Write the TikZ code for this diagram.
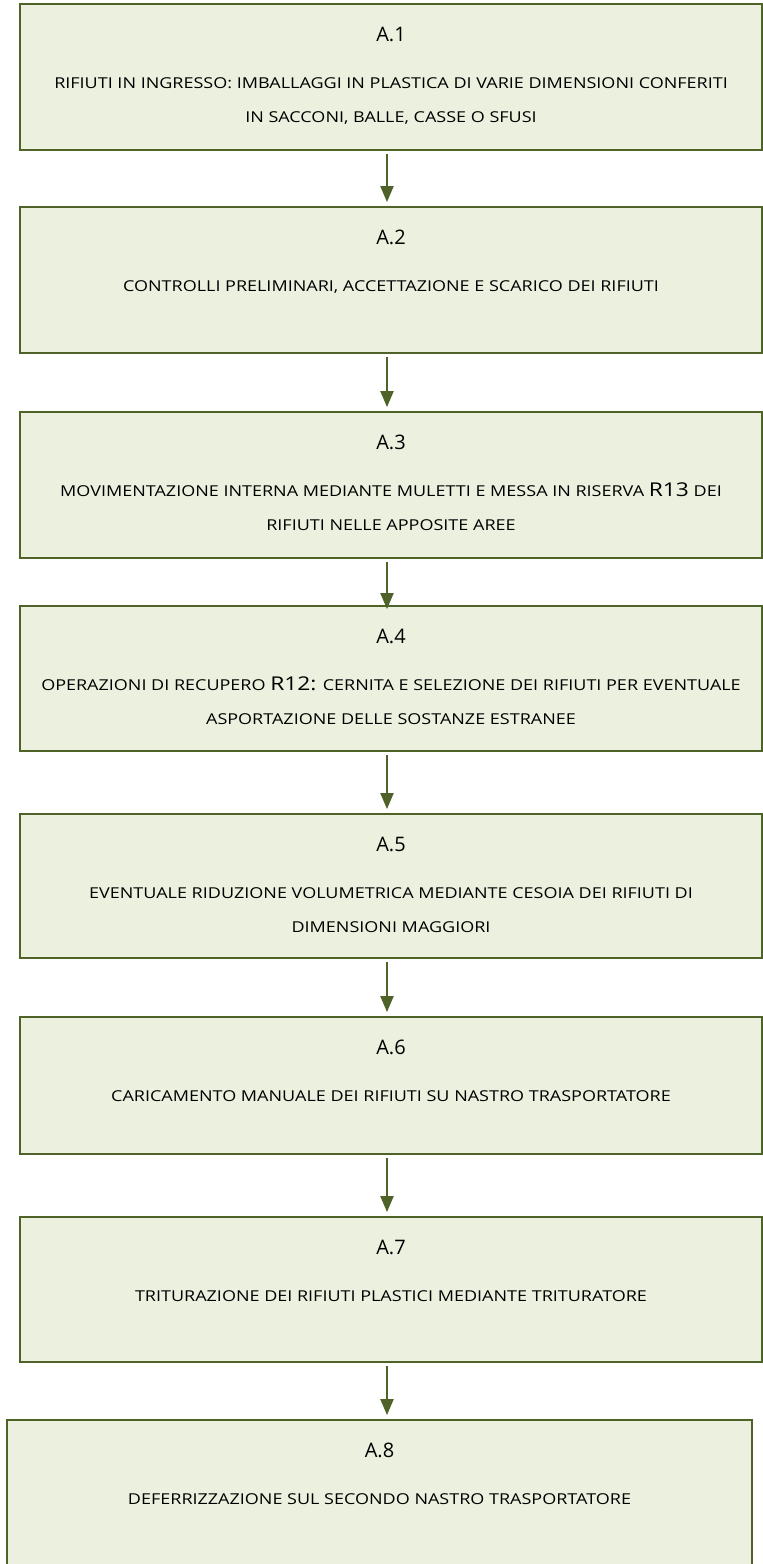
\documentclass[tikz,border=0pt]{standalone}
\usepackage{fontspec}
\setmainfont{Open Sans}
\newfontfamily\stepfont[FakeStretch=1.2]{Open Sans}
\usetikzlibrary{arrows.meta}

\definecolor{olivedark}{HTML}{4F6228}
\definecolor{olivefill}{HTML}{EBF1DE}
\newcommand{\rcode}[1]{{\fontsize{19}{19}\selectfont #1}}

\begin{document}
\begin{tikzpicture}[x=1pt,y=-1pt,
  box/.style={draw=olivedark,line width=1.8pt,fill=olivefill,minimum width=742pt,inner sep=0pt},
  stepno/.style={font=\fontsize{20}{20}\selectfont,anchor=base},
  steptxt/.style={font=\stepfont\fontsize{15}{34}\selectfont,align=center,anchor=base},
  flow/.style={draw=olivedark,line width=2pt,-{Triangle[width=13pt,length=16pt]},shorten <=3pt,shorten >=4pt}]
  \useasboundingbox (0,0) rectangle (763,1564);
  \clip (0,0) rectangle (763,1564);
  % boxes
  \foreach \n/\y/\h in {1/77/146,2/280/146,3/485/146,4/678.5/145,5/886/144,6/1085.5/137,7/1289.5/145} {
    \node[box,minimum height=\h pt] (a\n) at (391,\y) {};
  }
  \node[box,minimum width=745pt,minimum height=170pt] (a8) at (379.5,1505) {};
  \foreach \n in {1,...,8} {
    \node[stepno] (n\n) at ([yshift=-38pt]a\n.north) {A.\n};
  }
  % texts (two-line nodes sit on their last baseline)
  \node[steptxt] (t1) at ([yshift=-119pt]a1.north) {RIFIUTI IN INGRESSO: IMBALLAGGI IN PLASTICA DI VARIE DIMENSIONI CONFERITI\\IN SACCONI, BALLE, CASSE O SFUSI};
  \node[steptxt] (t2) at ([yshift=-85pt]a2.north) {CONTROLLI PRELIMINARI, ACCETTAZIONE E SCARICO DEI RIFIUTI};
  \node[steptxt] (t3) at ([yshift=-119pt]a3.north) {MOVIMENTAZIONE INTERNA MEDIANTE MULETTI E MESSA IN RISERVA \rcode{R13} DEI\\RIFIUTI NELLE APPOSITE AREE};
  \node[steptxt] (t4) at ([yshift=-119pt]a4.north) {OPERAZIONI DI RECUPERO \rcode{R12:} CERNITA E SELEZIONE DEI RIFIUTI PER EVENTUALE\\ASPORTAZIONE DELLE SOSTANZE ESTRANEE};
  \node[steptxt] (t5) at ([yshift=-119pt]a5.north) {EVENTUALE RIDUZIONE VOLUMETRICA MEDIANTE CESOIA DEI RIFIUTI DI\\DIMENSIONI MAGGIORI};
  \node[steptxt] (t6) at ([yshift=-85pt]a6.north) {CARICAMENTO MANUALE DEI RIFIUTI SU NASTRO TRASPORTATORE};
  \node[steptxt] (t7) at ([yshift=-85pt]a7.north) {TRITURAZIONE DEI RIFIUTI PLASTICI MEDIANTE TRITURATORE};
  \node[steptxt] (t8) at ([yshift=-85pt]a8.north) {DEFERRIZZAZIONE SUL SECONDO NASTRO TRASPORTATORE};
  % arrows
  \coordinate (axis) at (387,0);
  \foreach \i [evaluate=\i as \j using int(\i+1)] in {1,2,4,5,6,7} {
    \draw[flow] (a\i.south -| axis) -- (a\j.north -| axis);
  }
  \draw[flow,shorten >=-4pt] (a3.south -| axis) -- (a4.north -| axis);
\end{tikzpicture}
\end{document}
